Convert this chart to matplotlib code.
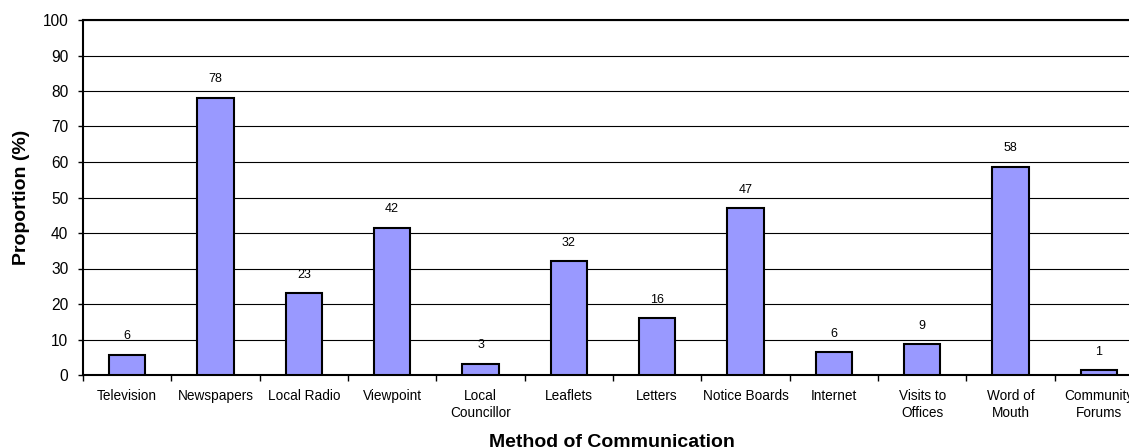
import matplotlib
matplotlib.use("Agg")
import matplotlib.pyplot as plt
import numpy as np

categories = ["Television", "Newspapers", "Local Radio", "Viewpoint", "Local\nCouncillor",
              "Leaflets", "Letters", "Notice Boards", "Internet", "Visits to\nOffices",
              "Word of\nMouth", "Community\nForums"]
values = [5.7, 78.1, 23.0, 41.5, 3.1, 32.1, 16.0, 47.0, 6.4, 8.6, 58.6, 1.3]
labels = ["6", "78", "23", "42", "3", "32", "16", "47", "6", "9", "58", "1"]
yticks = list(range(0, 101, 10))

plt.rcParams['font.family'] = ['Liberation Sans', 'DejaVu Sans']

W, H = 1129, 448
fig = plt.figure(figsize=(W/100, H/100), dpi=100)
left, right, top, bottom = 83, 1143, 20, 375
ax = fig.add_axes([left/W, 1-bottom/H, (right-left)/W, (bottom-top)/H])

x = np.arange(len(categories))
ax.bar(x, values, width=0.41, color="#9999FF", edgecolor="black", linewidth=1.5, zorder=3)
for xi, v, lab in zip(x, values, labels):
    ax.annotate(lab, (xi, v), xytext=(0, 9), textcoords="offset points",
                ha="center", va="bottom", fontsize=9)

ax.set_xlim(-0.5, len(categories) - 0.5)
ax.set_ylim(0, 100)
ax.set_yticks(yticks)
ax.tick_params(axis='y', labelsize=11.2, length=3.6, width=1, pad=7)
ax.set_xticks(np.arange(len(categories) + 1) - 0.5, minor=False)
ax.set_xticklabels([])
ax.set_xticks(x, minor=True)
ax.set_xticklabels(categories, minor=True, fontsize=9.8, va="top", linespacing=1.3)
ax.tick_params(axis='x', which='major', length=4, width=1, direction='out')
ax.tick_params(axis='x', which='minor', length=0, pad=10)
ax.yaxis.grid(True, color="black", linewidth=0.8, zorder=0)
for s in ax.spines.values():
    s.set_linewidth(1.5)
    s.set_color("black")

fig.text(22/W, 1 - 197/H, "Proportion (%)", rotation=90, ha="center", va="center",
         fontsize=14, fontweight="bold")
fig.text(612/W, 0.002, "Method of Communication",
         ha="center", va="baseline", fontsize=14, fontweight="bold")

fig.savefig("out.png", dpi=100)
